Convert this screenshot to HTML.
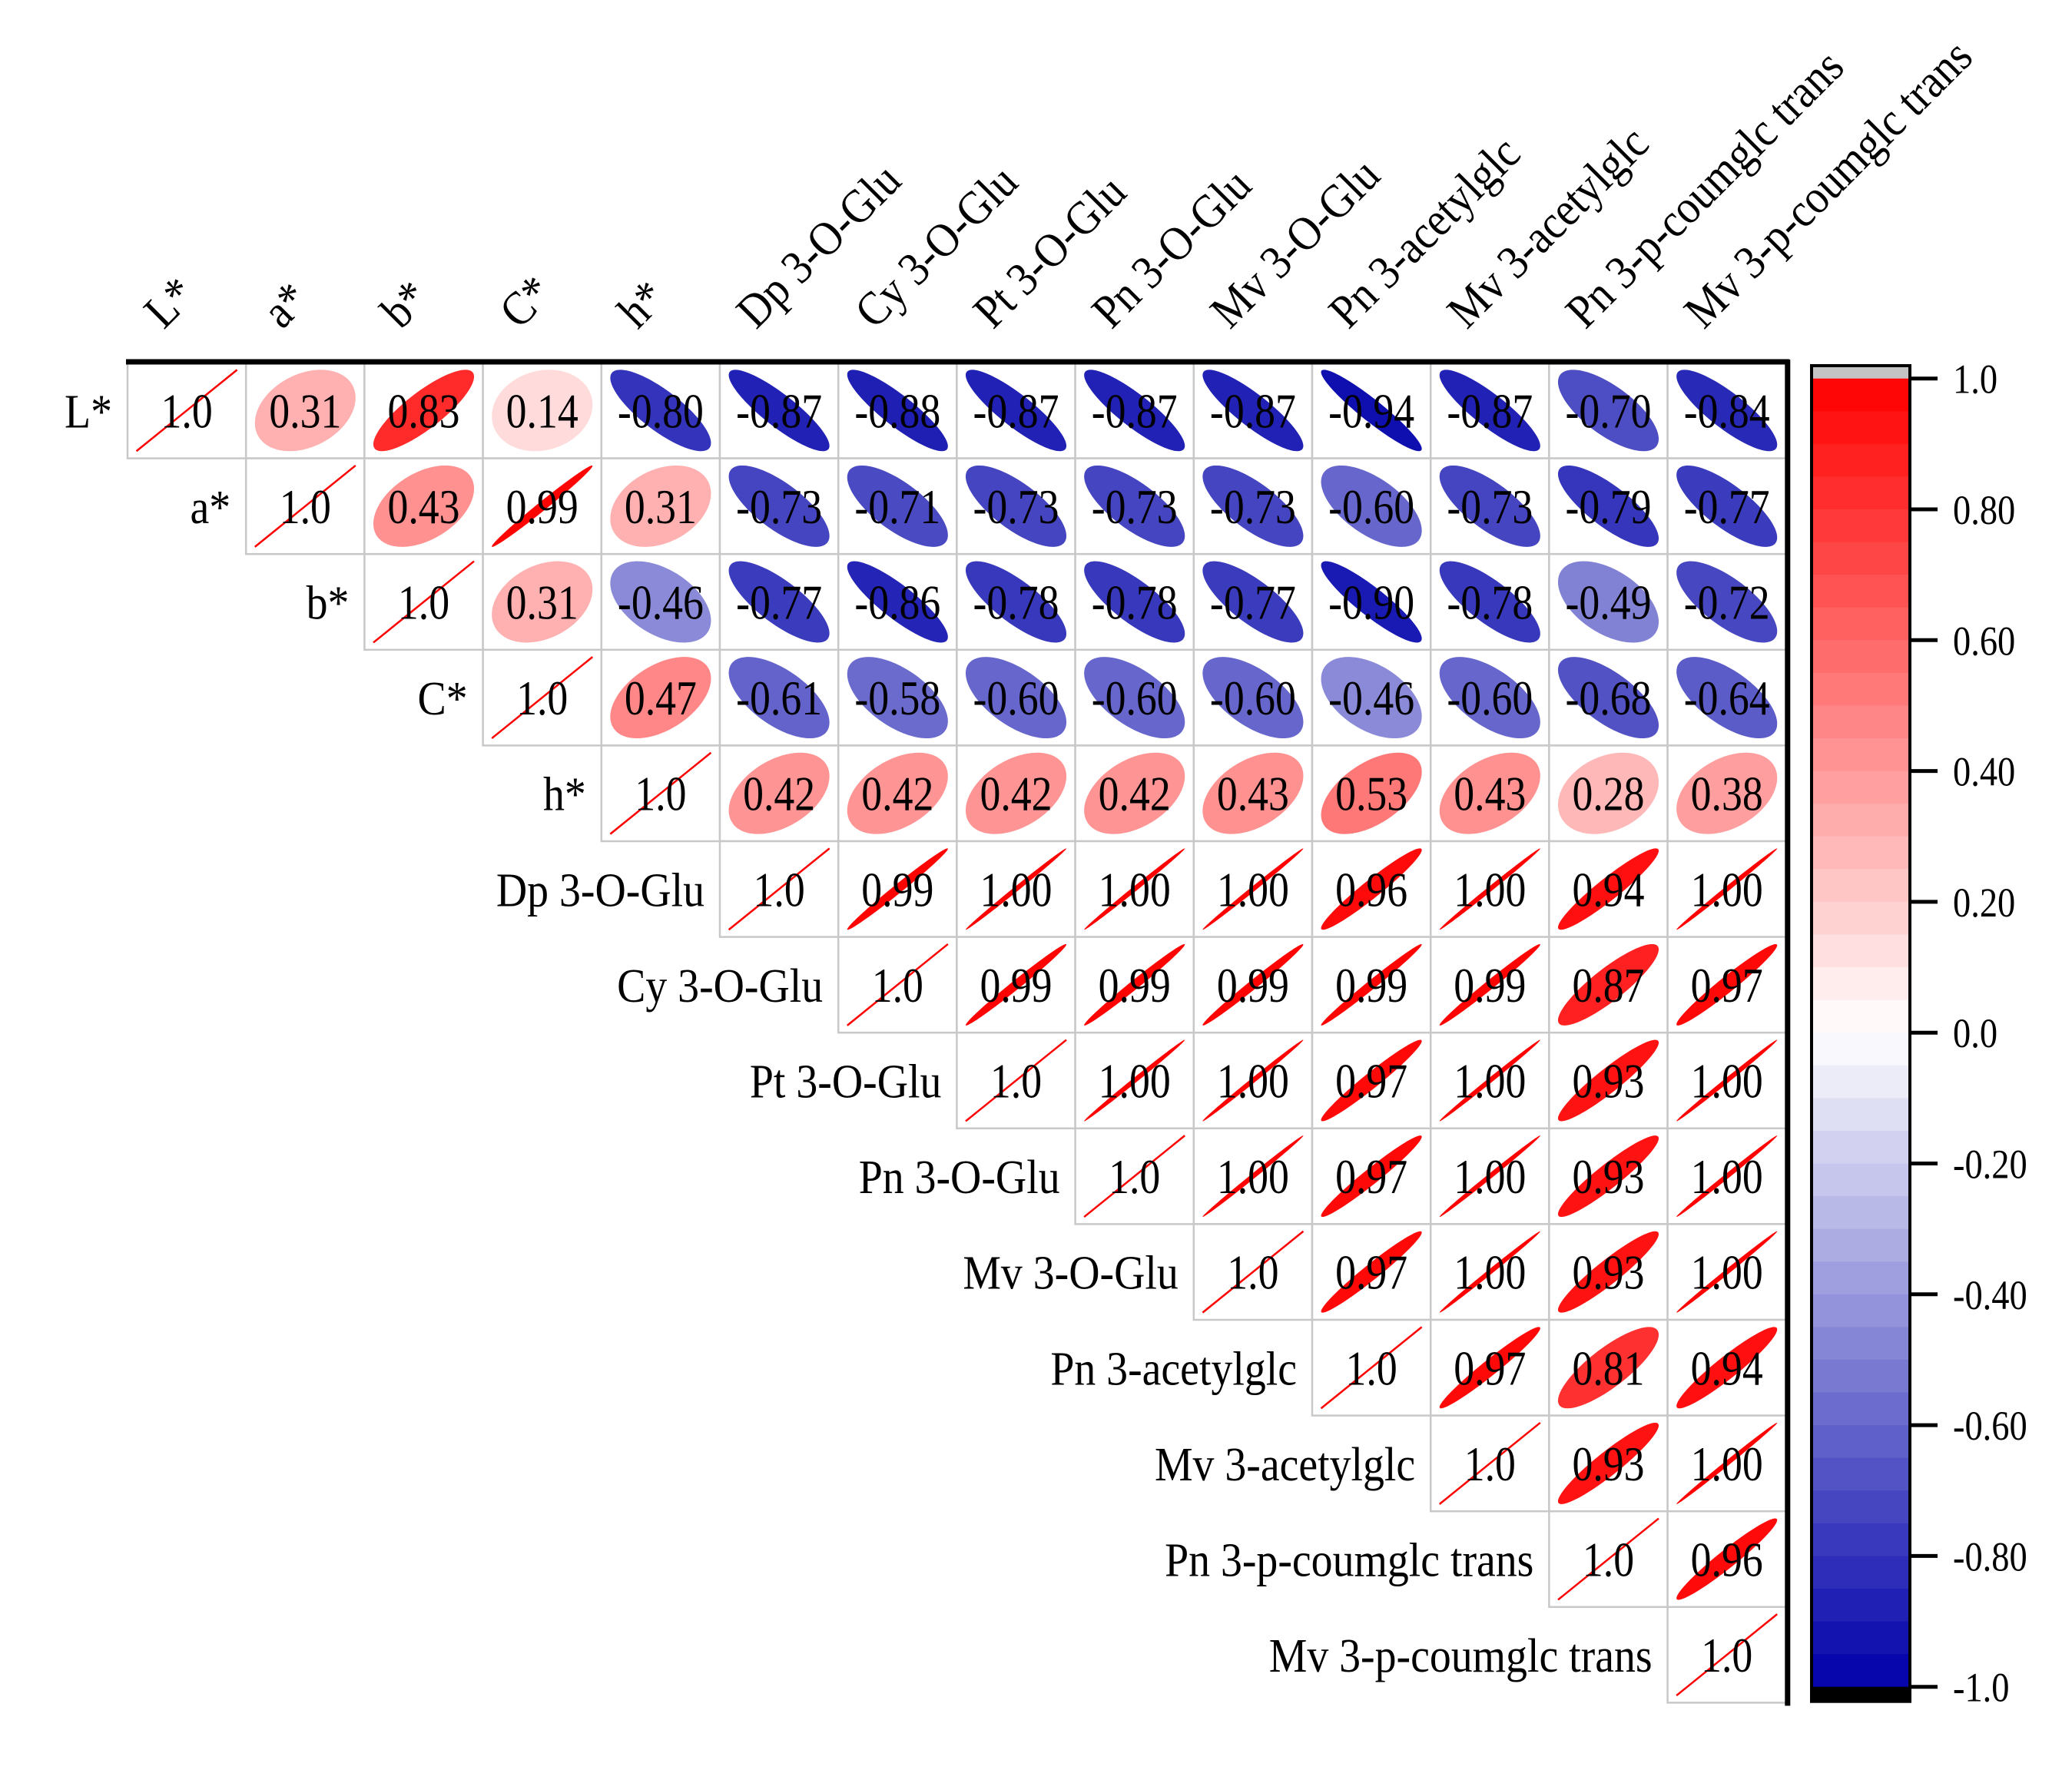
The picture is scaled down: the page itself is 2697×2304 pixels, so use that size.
<!DOCTYPE html>
<html><head><meta charset="utf-8"><style>
html,body{margin:0;padding:0;background:#fff;}
svg{display:block;font-family:"Liberation Serif",serif;}
</style></head><body>
<svg id="chart" width="2697" height="2304" viewBox="0 0 2697 2304" xmlns="http://www.w3.org/2000/svg">
<g id="cells"></g>
<g id="rowlabels"></g>
<g id="collabels"></g>
<g id="colorbar"></g>
</svg>
<script>
const variables = ["L*","a*","b*","C*","h*","Dp 3-O-Glu","Cy 3-O-Glu","Pt 3-O-Glu","Pn 3-O-Glu","Mv 3-O-Glu","Pn 3-acetylglc","Mv 3-acetylglc","Pn 3-p-coumglc trans","Mv 3-p-coumglc trans"];
// upper-triangle rows (starting at diagonal)
const rowL = [1.0,0.31,0.83,0.14,-0.80,-0.87,-0.88,-0.87,-0.87,-0.87,-0.94,-0.87,-0.70,-0.84];
const rowA = [1.0,0.43,0.99,0.31,-0.73,-0.71,-0.73,-0.73,-0.73,-0.60,-0.73,-0.79,-0.77];
const rowB = [1.0,0.31,-0.46,-0.77,-0.86,-0.78,-0.78,-0.77,-0.90,-0.78,-0.49,-0.72];
const rowC = [1.0,0.47,-0.61,-0.58,-0.60,-0.60,-0.60,-0.46,-0.60,-0.68,-0.64];
const rowH = [1.0,0.42,0.42,0.42,0.42,0.43,0.53,0.43,0.28,0.38];
const rowDp = [1.0,0.99,0.997,0.997,0.997,0.96,0.997,0.94,0.997];
const rowCy = [1.0,0.99,0.99,0.99,0.99,0.99,0.87,0.97];
const rowPt = [1.0,0.997,0.997,0.97,0.997,0.93,0.997];
const rowPn = [1.0,0.997,0.97,0.997,0.93,0.997];
const rowMv = [1.0,0.97,0.997,0.93,0.997];
const rowPnAc = [1.0,0.97,0.81,0.94];
const rowMvAc = [1.0,0.93,0.997];
const rowPnCo = [1.0,0.96];
const rowMvCo = [1.0];
const legendTicks = [1.0,0.8,0.6,0.4,0.2,0.0,-0.2,-0.4,-0.6,-0.8,-1.0];
const legendTickLabels = ["1.0","0.80","0.60","0.40","0.20","0.0","-0.20","-0.40","-0.60","-0.80","-1.0"];

const rows = [rowL,rowA,rowB,rowC,rowH,rowDp,rowCy,rowPt,rowPn,rowMv,rowPnAc,rowMvAc,rowPnCo,rowMvCo];
const NS = "http://www.w3.org/2000/svg";
const gridLeft = 166, gridTop = 472, cellW = 154.2, cellH = 124.6;
const xPos = j => gridLeft + j*cellW;
const yPos = i => gridTop + i*cellH;
function color(r){
  r = Math.max(-1, Math.min(1, r));
  if (r >= 0){ const g = Math.round(255*(1-r)); return `rgb(255,${g},${g})`; }
  const t = -r; const rg = Math.round(255*(1-t)); const b = Math.round(255 - 85*t);
  return `rgb(${rg},${rg},${b})`;
}
function mk(tag, attrs){ const e = document.createElementNS(NS, tag); for (const k in attrs) e.setAttribute(k, attrs[k]); return e; }
const cellsG = document.getElementById('cells');
rows.forEach((vals, i) => {
  vals.forEach((r, k) => {
    const j = i + k;
    const x0 = xPos(j), y0 = yPos(i), cx = x0 + cellW/2, cy = y0 + cellH/2;
    const g = mk('g', {});
    
    
    const rect = mk('rect', {x:x0, y:y0, width:cellW, height:cellH, fill:'#fff', stroke:'#c8c8c8', 'stroke-width':2.5});
    
    
    g.appendChild(rect);
    const phi = Math.acos(Math.max(-1, Math.min(1, r)))/2;
    if (k === 0) {
      const ln = mk('line', {x1:cx-0.425*cellW, y1:cy+0.425*cellH, x2:cx+0.425*cellW, y2:cy-0.425*cellH, stroke:'#ff0000', 'stroke-width':2.5});
      
      
      g.appendChild(ln);
    } else {
      let d = '';
      for (let s = 0; s <= 120; s++) {
        const t = s/120*2*Math.PI;
        const ex = 0.425*Math.cos(t+phi), ey = 0.425*Math.cos(t-phi);
        d += (s ? 'L' : 'M') + (cx + ex*cellW).toFixed(2) + ' ' + (cy - ey*cellH).toFixed(2);
      }
      const p = mk('path', {d: d + 'Z', fill: color(r)});
      
      
      g.appendChild(p);
    }
    const tx = mk('text', {x:0, y:0, 'text-anchor':'middle', 'font-size':64, fill:'#000', transform:`translate(${cx} ${cy+22}) scale(0.84 1)`});
    tx.textContent = k === 0 ? '1.0' : r.toFixed(2);
    
    
    g.appendChild(tx);
    cellsG.appendChild(g);
  });
});
const topLine = mk('line', {x1:gridLeft-2, y1:gridTop-1, x2:xPos(14)+4, y2:gridTop-1, stroke:'#000', 'stroke-width':7});


cellsG.appendChild(topLine);
const rightLine = mk('line', {x1:xPos(14)+2, y1:gridTop-4, x2:xPos(14)+2, y2:yPos(14)+4, stroke:'#000', 'stroke-width':7});


cellsG.appendChild(rightLine);

const rl = document.getElementById('rowlabels');
variables.forEach((v, i) => {
  const t = mk('text', {x:0, y:0, 'text-anchor':'end', 'font-size':62, transform:`translate(${xPos(i)-20} ${yPos(i)+cellH/2+22}) scale(0.9 1)`});
  t.textContent = v;
  
  
  rl.appendChild(t);
});
const cl = document.getElementById('collabels');
variables.forEach((v, j) => {
  const ax = xPos(j) + cellW/2 - 30, ay = 430;
  const t = mk('text', {x:0, y:0, 'font-size':62, transform:`translate(${ax} ${ay}) rotate(-45) scale(0.9 1)`});
  t.textContent = v;
  
  
  cl.appendChild(t);
});

const cb = document.getElementById('colorbar');
const cbL = 2358, cbR = 2486, yTop1 = 492.7, yPer = 851.5;
const vY = v => yTop1 + (1 - v)*yPer;
const grey = mk('rect', {x:cbL, y:477, width:cbR-cbL, height:yTop1-477, fill:'#c4c4c4'});


cb.appendChild(grey);
const nb = 40;
for (let b = 0; b < nb; b++) {
  const v1 = 1 - b*2/nb, v2 = 1 - (b+1)*2/nb;
  const r = mk('rect', {x:cbL, y:vY(v1), width:cbR-cbL, height:vY(v2)-vY(v1)+0.6, fill:color((v1+v2)/2)});
  
  
  cb.appendChild(r);
}
const blk = mk('rect', {x:cbL, y:vY(-1), width:cbR-cbL, height:19, fill:'#000'});


cb.appendChild(blk);
const frame = mk('rect', {x:cbL, y:476, width:cbR-cbL, height:vY(-1)+19-476, fill:'none', stroke:'#000', 'stroke-width':4});


cb.appendChild(frame);
legendTicks.forEach((v, i) => {
  const y = vY(v);
  const tk = mk('line', {x1:cbR, y1:y, x2:cbR+36, y2:y, stroke:'#000', 'stroke-width':5});
  
  
  cb.appendChild(tk);
  const t = mk('text', {x:0, y:0, 'font-size':54, transform:`translate(2542 ${y+19}) scale(0.86 1)`});
  t.textContent = legendTickLabels[i];
  
  
  cb.appendChild(t);
});
</script>
</body></html>
